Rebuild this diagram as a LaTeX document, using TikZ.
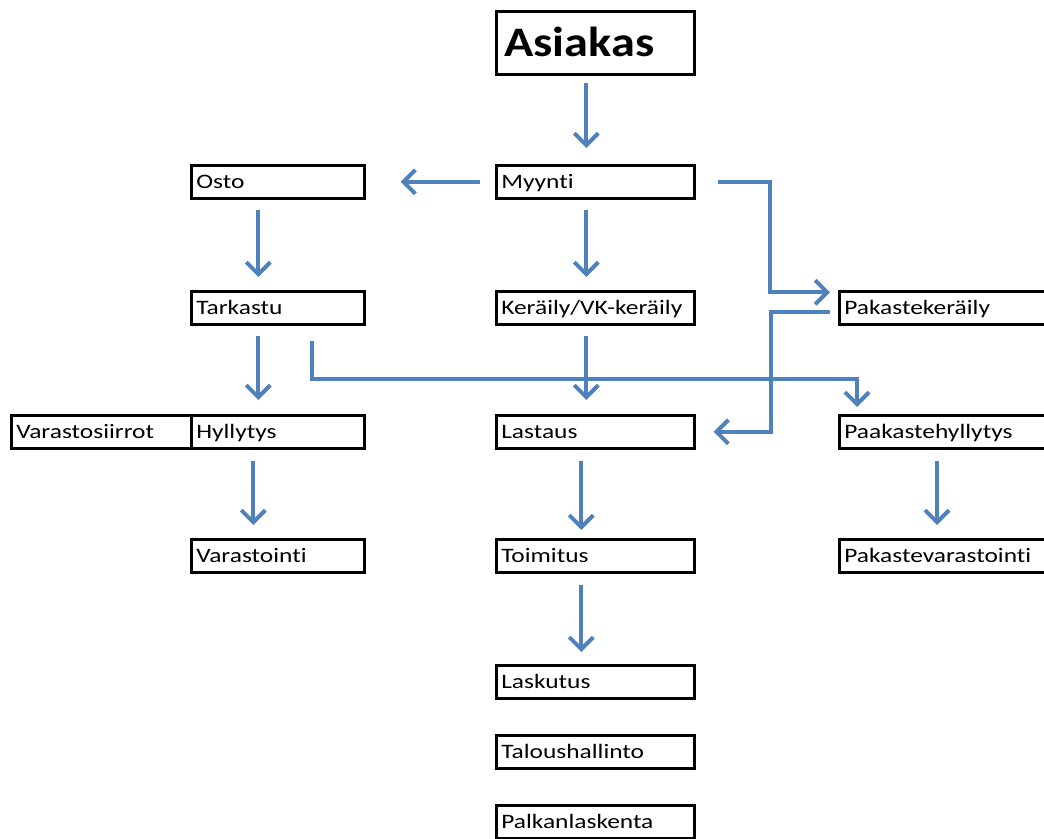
\documentclass[tikz,border=0pt]{standalone}
\usepackage{fontspec}
\setmainfont{Carlito}[FakeStretch=1.24, Ligatures=NoCommon]
\newfontfamily\bigfont{Carlito}[FakeStretch=1.15, Ligatures=NoCommon]
\usetikzlibrary{arrows.meta}
\definecolor{ablue}{RGB}{79,129,189}
\begin{document}
\begin{tikzpicture}[x=1pt,y=-1pt,
 box/.style={draw=black, line width=2.6pt, anchor=north west, inner xsep=5pt, inner ysep=0pt, minimum height=33pt, text height=18pt, text depth=5pt, align=left, font=\fontsize{20.5}{24}\selectfont},
 wc/.style={text width=188pt},
 wl/.style={text width=163pt},
 wv/.style={text width=170pt},
 wr/.style={text width=215pt},
 arr/.style={draw=ablue, line width=4pt, line join=miter, -{Straight Barb[length=12pt,width=24pt]}}]
\clip (0,0) rectangle (1044,838);
\node[box,wc,minimum height=63pt,inner xsep=8pt,text width=182pt,text height=32pt,text depth=5pt,font=\bigfont\fontsize{42}{48}\selectfont\bfseries] (asiakas) at (495,10) {Asiakas};
\node[box,wc] (myynti) at (495,164) {Myynti};
\node[box,wl] (osto) at (190,164) {Osto};
\node[box,wl] (tarkastu) at (190,290) {Tarkastu};
\node[box,wc] (kerail) at (495,290) {Keräily/VK-keräily};
\node[box,wr] (pakker) at (838,290) {Pakastekeräily};
\node[box,wv] (siirrot) at (10,414) {Varastosiirrot};
\node[box,wl] (hyllytys) at (190,414) {Hyllytys};
\node[box,wc] (lastaus) at (495,414) {Lastaus};
\node[box,wr] (pakhyl) at (838,414) {Paakastehyllytys};
\node[box,wl] (varastointi) at (190,538) {Varastointi};
\node[box,wc] (toimitus) at (495,538) {Toimitus};
\node[box,wr] (pakvar) at (838,538) {Pakastevarastointi};
\node[box,wc] (laskutus) at (495,664) {Laskutus};
\node[box,wc] (talous) at (495,734) {Taloushallinto};
\node[box,wc] (palkka) at (495,804) {Palkanlaskenta};

\draw[arr] ([xshift=-9pt,yshift=-7pt]asiakas.south) -- ([xshift=-9pt,yshift=16pt]myynti.north);
\draw[arr] ([xshift=-15pt]myynti.west) -- ([xshift=35pt]osto.east);
\draw[arr] ([xshift=-19.5pt,yshift=-10pt]osto.south) -- ([xshift=-19.5pt,yshift=13pt]tarkastu.north);
\draw[arr] ([xshift=-9pt,yshift=-10pt]myynti.south) -- ([xshift=-9pt,yshift=13pt]kerail.north);
\draw[arr] ([xshift=22pt]myynti.east) -- ++(52,0) |- ([xshift=-8pt,yshift=15.5pt]pakker.west);
\draw[arr] ([xshift=-8pt,yshift=-4.5pt]pakker.west) -- ++(-59,0) |- ([xshift=18pt]lastaus.east);
\draw[arr] ([xshift=-19.5pt,yshift=-10pt]tarkastu.south) -- ([xshift=-19.5pt,yshift=14pt]hyllytys.north);
\draw[arr] ([xshift=34.5pt,yshift=-15pt]tarkastu.south) -- ++(0,38) -| ([xshift=19pt,yshift=7pt]pakhyl.north west);
\draw[arr] ([xshift=-9pt,yshift=-10pt]kerail.south) -- ([xshift=-9pt,yshift=14pt]lastaus.north);
\draw[arr] ([xshift=-24.5pt,yshift=-11pt]hyllytys.south) -- ([xshift=-24.5pt,yshift=13pt]varastointi.north);
\draw[arr] ([xshift=-14pt,yshift=-11pt]lastaus.south) -- ([xshift=-14pt,yshift=8pt]toimitus.north);
\draw[arr] ([xshift=99pt,yshift=-11pt]pakhyl.south west) -- ([xshift=99pt,yshift=13pt]pakvar.north west);
\draw[arr] ([xshift=-14pt,yshift=-11pt]toimitus.south) -- ([xshift=-14pt,yshift=12pt]laskutus.north);
\end{tikzpicture}
\end{document}
